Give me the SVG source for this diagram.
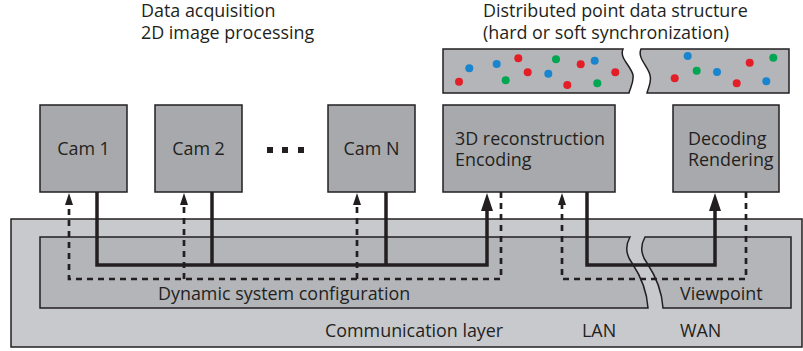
<svg xmlns="http://www.w3.org/2000/svg" width="803" height="351" viewBox="0 0 803 351">
<style>
text{font-family:"Open Sans","Noto Sans","Liberation Sans",sans-serif;font-size:17.9px;fill:#231f20}
.node{fill:#a7a9ac;stroke:#231f20;stroke-width:1.5}
.panel{fill:#b3b5b9;stroke:#231f20;stroke-width:1.5}
.outer{fill:#c8c9cc;stroke:#231f20;stroke-width:1.5}
.solid{fill:none;stroke:#231f20;stroke-width:3.5;stroke-linejoin:miter}
.dash{fill:none;stroke:#231f20;stroke-width:2.7;stroke-dasharray:6 5}
.r{fill:#e31e26}.b{fill:#1a85cf}.g{fill:#00a651}
</style>
<defs>
<marker id="big" viewBox="0 0 18 12" refX="11" refY="6" markerWidth="18" markerHeight="12" markerUnits="userSpaceOnUse" orient="auto"><path d="M0,0 L18,6 L0,12 Z" fill="#231f20"/></marker>
<marker id="small" viewBox="0 0 12 8" refX="2" refY="4" markerWidth="12" markerHeight="8" markerUnits="userSpaceOnUse" orient="auto"><path d="M0,0 L12,4 L0,8 Z" fill="#231f20"/></marker>
</defs>
<g id="communication-layer">
<rect class="outer" x="11" y="219" width="791" height="128"/>
<text x="325" y="337">Communication layer</text>
<text x="582" y="337">LAN</text>
<text x="680" y="337">WAN</text>
</g>
<g id="dynamic-config">
<path class="panel" d="M40,237 H630 C625,246 626,255 632,263 C640,275 647,292 648,308 H40 Z"/>
<text x="158" y="300">Dynamic system configuration</text>
</g>
<g id="viewpoint">
<path class="panel" d="M645,237 H791 V308 H663 C662,292 655,275 647,263 C641,255 640,246 645,237 Z"/>
<text x="680" y="300">Viewpoint</text>
</g>
<g id="labels">
<text x="141" y="17"><tspan x="141">Data acquisition</tspan><tspan x="141" dy="22">2D image processing</tspan></text>
<text x="483" y="17"><tspan x="483">Distributed point data structure</tspan><tspan x="483" dy="22">(hard or soft synchronization)</tspan></text>
</g>
<g id="point-data">
<path class="panel" d="M443,49 H623 C619,58 631,66 633,75 C634,83 630,88 629,93 H443 Z"/>
<path class="panel" d="M641,49 H789 V93 H647 C648,88 652,83 650,75 C648,66 637,58 641,49 Z"/>
<circle class="r" cx="459" cy="81.7" r="4"/>
<circle class="b" cx="469.3" cy="68.3" r="4"/>
<circle class="b" cx="496.7" cy="64" r="4"/>
<circle class="r" cx="518.3" cy="58.3" r="4"/>
<circle class="g" cx="505.7" cy="80.3" r="4"/>
<circle class="r" cx="527.7" cy="72.3" r="4"/>
<circle class="b" cx="548.3" cy="73.7" r="4"/>
<circle class="g" cx="556" cy="59.3" r="4"/>
<circle class="r" cx="567.3" cy="85" r="4"/>
<circle class="r" cx="580.7" cy="64.3" r="4"/>
<circle class="b" cx="594.7" cy="60.7" r="4"/>
<circle class="g" cx="597.3" cy="83.3" r="4"/>
<circle class="r" cx="615.3" cy="72.3" r="4"/>
<circle class="b" cx="687.7" cy="56" r="4"/>
<circle class="r" cx="674.7" cy="78.3" r="4"/>
<circle class="g" cx="696.7" cy="70.7" r="4"/>
<circle class="b" cx="717" cy="72" r="4"/>
<circle class="r" cx="736.7" cy="83.3" r="4"/>
<circle class="r" cx="749.7" cy="62.7" r="4"/>
<circle class="b" cx="766.3" cy="81.3" r="4"/>
<circle class="g" cx="773.3" cy="57.7" r="4"/>
</g>
<g id="cam1">
<rect class="node" x="40" y="105" width="87" height="87"/>
<text x="83.5" y="155" text-anchor="middle">Cam 1</text>
</g>
<g id="cam2">
<rect class="node" x="155" y="105" width="87" height="87"/>
<text x="198.5" y="155" text-anchor="middle">Cam 2</text>
</g>
<g id="ellipsis">
<rect x="267" y="147" width="6" height="6" fill="#231f20"/>
<rect x="282" y="147" width="6" height="6" fill="#231f20"/>
<rect x="298" y="147" width="6" height="6" fill="#231f20"/>
</g>
<g id="camN">
<rect class="node" x="328" y="105" width="87" height="87"/>
<text x="371.5" y="155" text-anchor="middle">Cam N</text>
</g>
<g id="reconstruction">
<rect class="node" x="443" y="105" width="172" height="87"/>
<text x="455" y="145"><tspan x="455">3D reconstruction</tspan><tspan x="455" dy="21">Encoding</tspan></text>
</g>
<g id="decoding">
<rect class="node" x="673" y="105" width="106" height="87"/>
<text x="688" y="145"><tspan x="688">Decoding</tspan><tspan x="688" dy="21">Rendering</tspan></text>
</g>
<g id="connectors">
<path class="solid" d="M97,192 V265 H487 V200" marker-end="url(#big)"/>
<path class="solid" d="M212,192 V265"/>
<path class="solid" d="M386,192 V265"/>
<path class="solid" d="M587,192 V265 H715 V200" marker-end="url(#big)"/>
<path class="dash" d="M501,192 V279 H69 V203" marker-end="url(#small)"/>
<path class="dash" d="M184,279 V203" marker-end="url(#small)"/>
<path class="dash" d="M357,279 V203" marker-end="url(#small)"/>
<path class="dash" d="M746,192 V279 H562 V203" marker-end="url(#small)"/>
</g>
</svg>
